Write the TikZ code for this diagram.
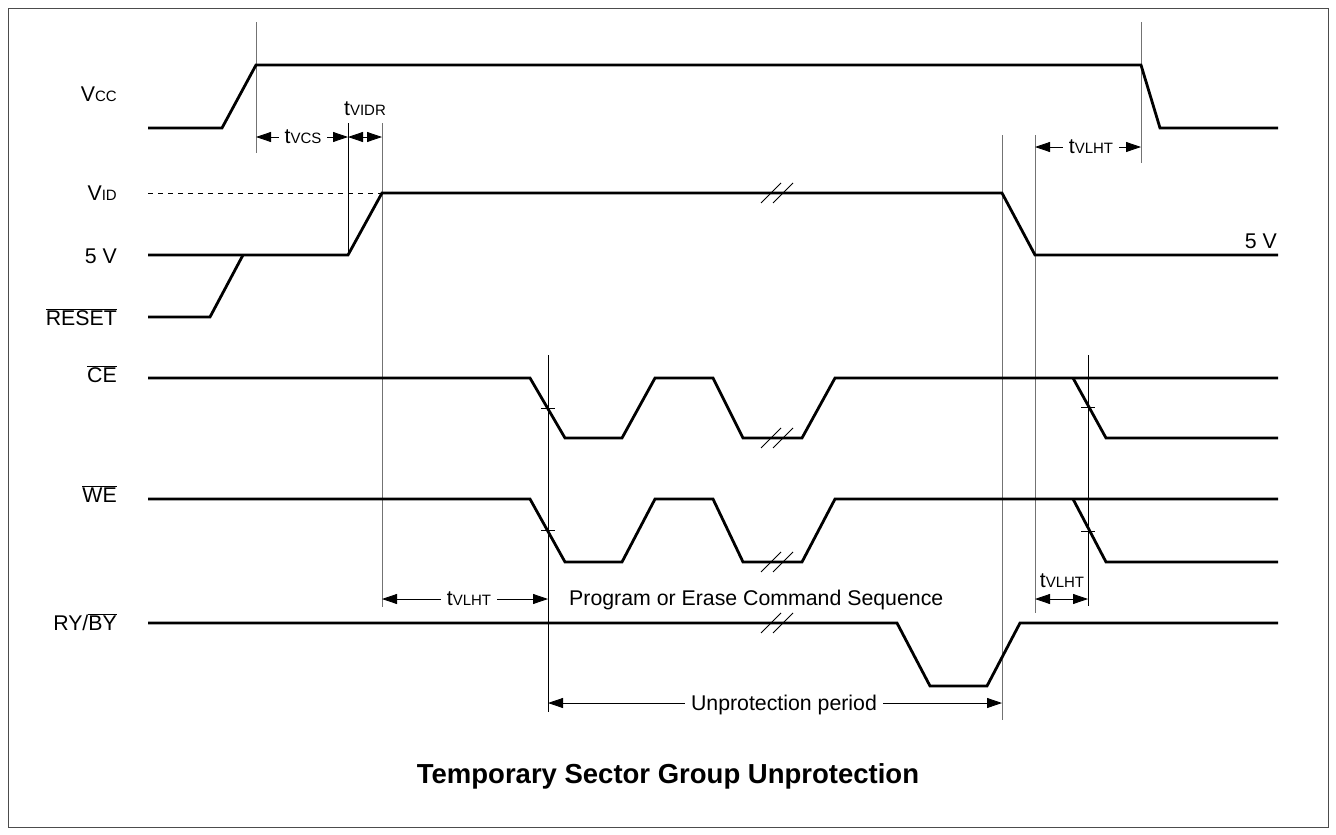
\documentclass[tikz,border=0pt]{standalone}
\usepackage{fontspec}
\setmainfont{Liberation Sans}
\usetikzlibrary{arrows.meta}
\newcommand\ovl[1]{$\overline{\mbox{#1}}$}
\newcommand\sm[1]{{\fontsize{15}{16}\selectfont #1}}
\newcommand\brkmark[2]{\draw[brk] ({#1-15},{#2+10}) -- ({#1+5},{#2-10}); \draw[brk] ({#1-3},{#2+10}) -- ({#1+17},{#2-10});}
\begin{document}
\begin{tikzpicture}[x=1pt,y=-1pt,
  sig/.style={line width=2.8pt, black, line join=miter},
  guide/.style={line width=0.9pt, black!55},
  guideb/.style={line width=0.8pt, black},
  dim/.style={line width=0.8pt, {Triangle[length=15pt,width=10pt]}-{Triangle[length=15pt,width=10pt]}},
  lbl/.style={font=\fontsize{21.3}{24}\selectfont, inner sep=1pt},
  gap/.style={lbl, fill=white, inner xsep=6pt},
  brk/.style={line width=0.8pt}]
\useasboundingbox (0,0) rectangle (1336,835);
\draw[line width=0.8pt, black!70] (8,8) rectangle (1328,827);

% guide lines
\draw[guide] (256,22) -- (256,153);
\draw[guide] (1141,22) -- (1141,163);
\draw[guideb] (348,123) -- (348,255);
\draw[guide] (382,123) -- (382,607);
\draw[guideb] (548,355) -- (548,712);
\draw[guide] (1002,135) -- (1002,720);
\draw[guide] (1035,135) -- (1035,613);
\draw[guideb] (1088,355) -- (1088,606);
% ticks
\draw[guideb] (541,408) -- (555,408);
\draw[guideb] (541,530) -- (555,530);
\draw[guideb] (1081,407) -- (1095,407);
\draw[guideb] (1081,531) -- (1095,531);

% Vcc
\draw[sig] (148,128) -- (222,128) -- (256,65) -- (1141,65) -- (1160,128) -- (1278,128);
% VID / 5V / RESET
\draw[line width=0.9pt, dash pattern=on 5pt off 5pt] (148,193) -- (382,193);
\draw[sig] (148,255) -- (348,255) -- (382,193) -- (1002,193) -- (1035,255) -- (1278,255);
\draw[sig] (148,317) -- (210,317) -- (243,255);
% CE
\draw[sig] (148,378) -- (530,378) -- (565,438) -- (622,438) -- (655,378) -- (713,378) -- (743,438) -- (802,438) -- (835,378) -- (1278,378);
\draw[sig] (1073,378) -- (1106,438) -- (1278,438);
% WE
\draw[sig] (148,499) -- (530,499) -- (565,562) -- (622,562) -- (655,499) -- (713,499) -- (743,562) -- (802,562) -- (835,499) -- (1278,499);
\draw[sig] (1073,499) -- (1106,562) -- (1278,562);
% RY/BY
\draw[sig] (148,623) -- (897,623) -- (930,686) -- (987,686) -- (1020,623) -- (1278,623);

% break marks
\brkmark{776}{193}
\brkmark{776}{438}
\brkmark{776}{562}
\brkmark{776}{623}

% signal labels
\node[lbl, anchor=base east] (lvcc) at (118,101) {V\sm{CC}};
\node[lbl, anchor=base east] (lvid) at (118,200) {V\sm{ID}};
\node[lbl, anchor=base east] (l5v) at (118,263) {5 V};
\node[lbl, anchor=base east] (lreset) at (118,325) {\ovl{RESET}};
\node[lbl, anchor=base east] (lce) at (118,382) {\ovl{CE}};
\node[lbl, anchor=base east] (lwe) at (118,502) {\ovl{WE}};
\node[lbl, anchor=base east] (lry) at (118,630) {RY/\ovl{BY}};
\node[lbl, anchor=base east] (r5v) at (1278,248) {5 V};

% timing dimensions
\draw[dim] (256,137) -- (348,137);
\node[gap, anchor=base] (tvcs) at (303,143) {t\sm{VCS}};
\draw[dim] (348,137) -- (382,137);
\node[lbl, anchor=base] (tvidr) at (365,115) {t\sm{VIDR}};
\draw[dim] (1035,147) -- (1141,147);
\node[gap, anchor=base] (tvlht1) at (1091,153) {t\sm{VLHT}};
\draw[dim] (382,599) -- (548,599);
\node[gap, anchor=base] (tvlht2) at (469,605) {t\sm{VLHT}};
\draw[dim] (1035,599) -- (1088,599);
\node[lbl, anchor=base] (tvlht3) at (1062,587) {t\sm{VLHT}};
\node[lbl, anchor=base west] (prog) at (568,605) {Program or Erase Command Sequence};
\draw[dim] (548,703) -- (1002,703);
\node[gap, anchor=base] (unp) at (784,710) {Unprotection period};

% title
\node[font=\bfseries\fontsize{27.5}{30}\selectfont, anchor=base] (title) at (668,783) {Temporary Sector Group Unprotection};
\end{tikzpicture}
\end{document}
